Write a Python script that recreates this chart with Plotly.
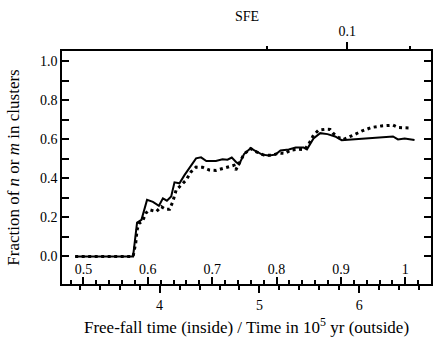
import plotly.graph_objects as go

# Time in 10^5 yr (bottom outer axis) and fraction in clusters
t_solid = [3.154, 3.734, 3.774, 3.818, 3.874, 3.933, 3.993, 4.033, 4.073, 4.116, 4.149, 4.199,
           4.249, 4.299, 4.365, 4.415, 4.468, 4.564, 4.630, 4.680, 4.723, 4.763, 4.796, 4.846,
           4.912, 4.962, 5.028, 5.095, 5.161, 5.211, 5.294, 5.363, 5.443, 5.476, 5.542, 5.609,
           5.682, 5.758, 5.824, 5.923, 6.057, 6.189, 6.338, 6.388, 6.455, 6.554]
f_solid = [0.0, 0.0, 0.174, 0.188, 0.29, 0.28, 0.26, 0.298, 0.286, 0.307, 0.38, 0.375,
           0.417, 0.452, 0.503, 0.508, 0.489, 0.489, 0.498, 0.496, 0.507, 0.486, 0.472, 0.525,
           0.555, 0.54, 0.522, 0.517, 0.522, 0.543, 0.548, 0.558, 0.558, 0.549, 0.605, 0.632,
           0.627, 0.615, 0.596, 0.6, 0.605, 0.607, 0.615, 0.6, 0.605, 0.597]

t_dot = [3.154, 3.734, 3.761, 3.774, 3.794, 3.828, 3.861, 3.900, 3.967, 4.017, 4.060, 4.100,
         4.132, 4.166, 4.216, 4.266, 4.315, 4.365, 4.431, 4.498, 4.564, 4.630, 4.697, 4.746,
         4.763, 4.796, 4.846, 4.912, 4.975, 5.045, 5.124, 5.194, 5.254, 5.313, 5.393, 5.453,
         5.493, 5.542, 5.592, 5.659, 5.708, 5.741, 5.791, 5.841, 5.891, 5.940, 6.023, 6.122,
         6.222, 6.338, 6.388, 6.455, 6.520]
f_dot = [0.0, 0.0, 0.07, 0.136, 0.17, 0.179, 0.222, 0.239, 0.23, 0.255, 0.242, 0.242,
         0.281, 0.341, 0.366, 0.392, 0.434, 0.458, 0.457, 0.443, 0.441, 0.451, 0.461, 0.467,
         0.443, 0.475, 0.525, 0.553, 0.535, 0.52, 0.518, 0.53, 0.528, 0.545, 0.55, 0.548,
         0.575, 0.622, 0.647, 0.652, 0.651, 0.63, 0.61, 0.6, 0.61, 0.622, 0.642, 0.661,
         0.669, 0.673, 0.661, 0.658, 0.658]

time_ticks = [4, 5, 6]
tff_ticks = [0.5, 0.6, 0.7, 0.8, 0.9, 1.0]
tff_labels = ["0.5", "0.6", "0.7", "0.8", "0.9", "1"]
sfe_major = [5.881]
sfe_major_labels = ["0.1"]
sfe_minor = [5.075, 6.507]

x_range = [3.022, 6.719]
# free-fall time axis: time = 3.237 + (tff - 0.5) * 6.448
tff_range = [0.5 + (x_range[0] - 3.237) / 6.448, 0.5 + (x_range[1] - 3.237) / 6.448]

FONT = "Liberation Serif"
TICKFONT = dict(family=FONT, size=14, color="black")

fig = go.Figure()
fig.add_trace(go.Scatter(x=t_solid, y=f_solid, mode="lines",
                         line=dict(color="black", width=2), showlegend=False))
fig.add_trace(go.Scatter(x=t_dot, y=f_dot, mode="lines",
                         line=dict(color="black", width=3, dash="3px,3.5px"), showlegend=False))
# invisible traces so the overlaid axes get drawn
fig.add_trace(go.Scatter(x=tff_ticks, y=[None] * len(tff_ticks), xaxis="x2", mode="lines",
                         showlegend=False, hoverinfo="skip"))
fig.add_trace(go.Scatter(x=sfe_major, y=[None] * len(sfe_major), xaxis="x3", mode="lines",
                         showlegend=False, hoverinfo="skip"))

fig.update_layout(
    width=436, height=344,
    margin=dict(l=62, r=3, t=51, b=60),
    paper_bgcolor="white", plot_bgcolor="white",
    font=dict(family=FONT, size=14, color="black"),
    hovermode=False,
    xaxis=dict(
        range=x_range, tickvals=time_ticks, ticktext=[str(v) for v in time_ticks],
        color="black", tickfont=TICKFONT,
        ticks="outside", ticklen=7, tickwidth=1.5, tickcolor="black",
        minor=dict(dtick=0.2, tick0=4, ticks="outside", ticklen=4, tickwidth=1.5, tickcolor="black"),
        showline=True, linecolor="black", linewidth=1.5, mirror=True,
        showgrid=False, zeroline=False,
        title=dict(text="Free-fall time (inside) / Time in 10<sup>5</sup> yr (outside)", standoff=10),
    ),
    xaxis2=dict(
        overlaying="x", side="bottom", anchor="y", range=tff_range,
        tickvals=tff_ticks, ticktext=tff_labels, ticklabelposition="inside",
        color="black", tickfont=TICKFONT,
        ticks="inside", ticklen=7, tickwidth=1.5, tickcolor="black",
        minor=dict(dtick=0.02, tick0=0.5, ticks="inside", ticklen=4, tickwidth=1.5, tickcolor="black"),
        showline=False, showgrid=False, zeroline=False,
    ),
    xaxis3=dict(
        overlaying="x", side="top", anchor="y", range=x_range,
        tickvals=sfe_major, ticktext=sfe_major_labels,
        color="black", tickfont=TICKFONT,
        ticks="outside", ticklen=8, tickwidth=1.5, tickcolor="black",
        minor=dict(tickvals=sfe_minor, ticks="outside", ticklen=4, tickwidth=1.5, tickcolor="black"),
        showline=False, showgrid=False, zeroline=False,
    ),
    yaxis=dict(
        range=[-0.141, 1.053], tickvals=[0.0, 0.2, 0.4, 0.6, 0.8, 1.0], tickformat=".1f",
        color="black", tickfont=TICKFONT,
        ticks="inside", ticklen=7, tickwidth=1.5, tickcolor="black",
        minor=dict(dtick=0.1, tick0=0, ticks="inside", ticklen=7, tickwidth=1.5, tickcolor="black"),
        showline=True, linecolor="black", linewidth=1.5, mirror="ticks",
        showgrid=False, zeroline=False,
        title=dict(text="Fraction of <i>n</i> or <i>m</i> in clusters", standoff=16),
    ),
    annotations=[dict(text="SFE", xref="paper", yref="paper", x=0.5, y=1.146,
                      xanchor="center", yanchor="middle", showarrow=False,
                      font=dict(family=FONT, size=14, color="black"))],
)

fig.write_html("out.html", config={"displayModeBar": False},
               post_script="document.body.style.margin='0';")
